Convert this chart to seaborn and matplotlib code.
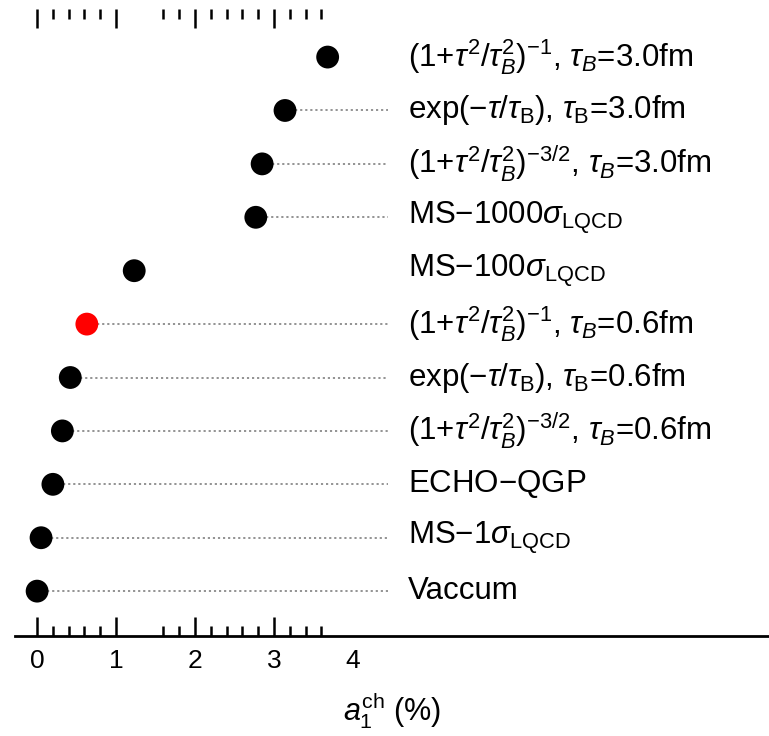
import matplotlib
matplotlib.use("Agg")
import matplotlib.pyplot as plt
import seaborn as sns
import pandas as pd

sns.set_style("white")
plt.rcParams['font.family'] = ['Liberation Sans', 'DejaVu Sans']
plt.rcParams['mathtext.fontset'] = 'custom'
plt.rcParams['mathtext.rm'] = 'Liberation Sans'
plt.rcParams['mathtext.it'] = 'Liberation Sans:italic'
plt.rcParams['mathtext.bf'] = 'Liberation Sans:bold'

labels = [
    "Vaccum",
    r"MS$-$1$\sigma_{\rm LQCD}$",
    r"ECHO$-$QGP",
    r"(1+$\tau^2/\tau_B^2$)$^{-3/2}$, $\tau_B$=0.6fm",
    r"exp($-\tau/\tau_{\rm B}$), $\tau_{\rm B}$=0.6fm",
    r"(1+$\tau^2/\tau_B^2$)$^{-1}$, $\tau_B$=0.6fm",
    r"MS$-$100$\sigma_{\rm LQCD}$",
    r"MS$-$1000$\sigma_{\rm LQCD}$",
    r"(1+$\tau^2/\tau_B^2$)$^{-3/2}$, $\tau_B$=3.0fm",
    r"exp($-\tau/\tau_{\rm B}$), $\tau_{\rm B}$=3.0fm",
    r"(1+$\tau^2/\tau_B^2$)$^{-1}$, $\tau_B$=3.0fm",
]
values = [0.0, 0.05, 0.2, 0.32, 0.42, 0.63, 1.23, 2.77, 2.85, 3.14, 3.68]
highlight = [False, False, False, False, False, True, False, False, False, False, False]
has_line = [True, True, True, True, True, True, False, True, True, True, False]
rows = list(range(len(labels)))

df = pd.DataFrame({"value": values, "row": rows, "hl": highlight, "label": labels})

fig = plt.figure(figsize=(7.69, 7.36), dpi=100)
ax = fig.add_axes([15/769, 1-636/736, 1-15/769, (636-9)/736])

line_end = 4.44
label_x = 4.7
for v, r, hl in zip(values, rows, has_line):
    if hl:
        ax.hlines(r, v, line_end, colors="#8a8a8a", linestyles=(0, (1.2, 1.6)), linewidth=1.3, zorder=1)

sns.scatterplot(data=df, x="value", y="row", hue="hl", palette={False: "black", True: "red"},
                s=270, edgecolor="none", legend=False, ax=ax, zorder=3)

for r, lab in zip(rows, labels):
    ax.text(label_x, r, lab, fontsize=22.5, va="center", ha="left", color="black")

ax.set_xlim(-0.28, 9.27)
ax.set_ylim(-0.84, 10.9)
ax.set_yticks([])
ax.set_ylabel("")
for s in ["left", "right", "top"]:
    ax.spines[s].set_visible(False)
ax.spines["bottom"].set_linewidth(2)
ax.spines["bottom"].set_color("black")

ax.set_xticks([0, 1, 2, 3, 4])
ax.set_xticklabels(["0", "1", "2", "3", "4"], fontsize=19, color="black")
ax.set_xticks([0.2, 0.4, 0.6, 0.8, 1.6, 1.8, 2.2, 2.4, 2.6, 2.8, 3.2, 3.4, 3.6], minor=True)
ax.tick_params(axis="x", which="major", direction="in", length=14, width=1.8, pad=9,
               top=True, bottom=True, color="black", labelcolor="black")
ax.tick_params(axis="x", which="minor", direction="in", length=7, width=1.8,
               top=True, bottom=True, color="black")
mt = ax.xaxis.get_major_ticks()
mt[4].tick1line.set_visible(False)
mt[4].tick2line.set_visible(False)

ax.set_xlabel(r"$a_1^{\rm ch}$ (%)", fontsize=22, labelpad=13, color="black")

fig.savefig("out.png", dpi=100)
